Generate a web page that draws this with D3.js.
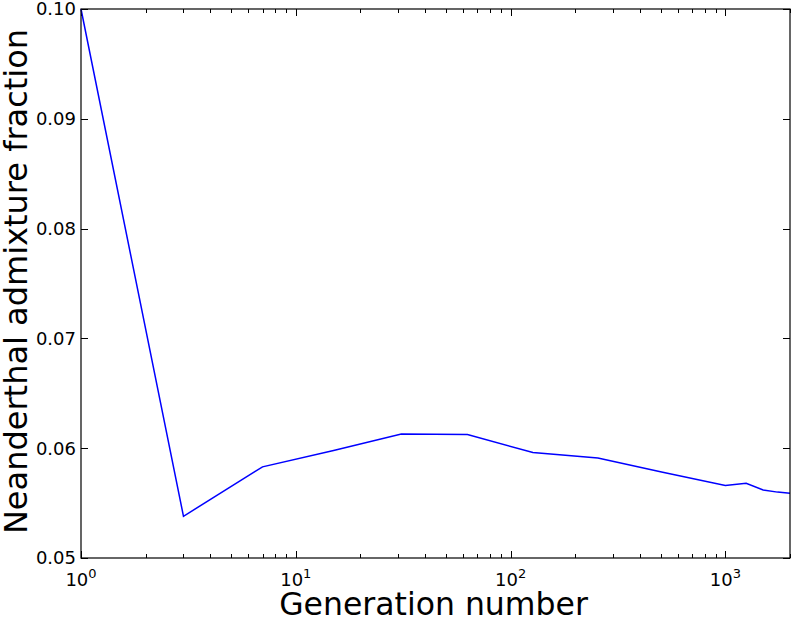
<!DOCTYPE html>
<html>
<head>
<meta charset="utf-8">
<script src="https://cdn.jsdelivr.net/npm/d3@7"></script>
<style>
  body { margin: 0; background: #fff; }
  svg { font-family: "DejaVu Sans", sans-serif; }
</style>
</head>
<body>
<svg id="chart" width="793" height="623"></svg>
<script>
// generation at which admixture was recorded
const generations = [1, 3, 7, 15, 31, 63, 127, 255, 511, 1000, 1250, 1500, 1750, 2000];
// admixture fraction
const admixture = [0.1000, 0.0538, 0.0583, 0.0598, 0.0613, 0.06125, 0.0596, 0.0591, 0.0578, 0.0566, 0.0568, 0.0562, 0.0560, 0.0559];
const yTicks = [0.05, 0.06, 0.07, 0.08, 0.09, 0.10];
const xMajor = [1, 10, 100, 1000];
const xLabel = "Generation number";
const yLabel = "Neanderthal admixture fraction";

const width = 793, height = 623;
const margin = { top: 9, right: 3, bottom: 65, left: 81 };
const svg = d3.select("#chart");

const x = d3.scaleLog().domain([1, 2000]).range([margin.left, width - margin.right]);
const y = d3.scaleLinear().domain([0.05, 0.10]).range([height - margin.bottom, margin.top]);

const x0 = margin.left, x1 = width - margin.right;
const y0 = height - margin.bottom, y1 = margin.top;

// minor ticks on log axis
const xMinor = [];
for (let d = 1; d <= 1000; d *= 10) {
  for (let k = 2; k <= 9; k++) {
    if (d * k <= 2000) xMinor.push(d * k);
  }
}

const ticks = svg.append("g").attr("stroke", "#000").attr("stroke-width", 1);
// x ticks, bottom and top, pointing inward
xMajor.forEach(v => {
  const px = Math.round(x(v)) + 0.5;
  ticks.append("line").attr("x1", px).attr("x2", px).attr("y1", y0).attr("y2", y0 - 7);
  ticks.append("line").attr("x1", px).attr("x2", px).attr("y1", y1).attr("y2", y1 + 7);
});
xMinor.forEach(v => {
  const px = Math.round(x(v)) + 0.5;
  ticks.append("line").attr("x1", px).attr("x2", px).attr("y1", y0).attr("y2", y0 - 4);
  ticks.append("line").attr("x1", px).attr("x2", px).attr("y1", y1).attr("y2", y1 + 4);
});
// y ticks, left and right
yTicks.forEach(v => {
  const py = Math.round(y(v)) + 0.5;
  ticks.append("line").attr("x1", x0).attr("x2", x0 + 7).attr("y1", py).attr("y2", py);
  ticks.append("line").attr("x1", x1).attr("x2", x1 - 7).attr("y1", py).attr("y2", py);
});

// data line
const line = d3.line()
  .x((d, i) => x(generations[i]))
  .y(d => y(d));

svg.append("path")
  .datum(admixture)
  .attr("fill", "none")
  .attr("stroke", "#0000ff")
  .attr("stroke-width", 1.5)
  .attr("stroke-linejoin", "miter")
  .attr("d", line);

// frame
svg.append("rect")
  .attr("x", x0).attr("y", y1)
  .attr("width", x1 - x0).attr("height", y0 - y1)
  .attr("fill", "none").attr("stroke", "#000").attr("stroke-width", 1.2);

// y tick labels
svg.append("g").selectAll("text")
  .data(yTicks)
  .join("text")
  .attr("x", x0 - 5)
  .attr("y", d => y(d))
  .attr("dy", "0.36em")
  .attr("text-anchor", "end")
  .attr("font-size", 18)
  .text(d => d.toFixed(2));

// x tick labels as 10^n
const xl = svg.append("g").selectAll("text")
  .data(xMajor)
  .join("text")
  .attr("x", d => x(d))
  .attr("y", y0 + 28)
  .attr("text-anchor", "middle")
  .attr("font-size", 18);
xl.append("tspan").text("10");
xl.append("tspan")
  .attr("font-size", 13)
  .attr("dy", -8)
  .text(d => Math.round(Math.log10(d)));

// axis titles
svg.append("text")
  .attr("x", (x0 + x1) / 2 - 2)
  .attr("y", 615)
  .attr("text-anchor", "middle")
  .attr("font-size", 31.5)
  .text(xLabel);

svg.append("text")
  .attr("transform", `translate(27,${(y0 + y1) / 2 - 2}) rotate(-90)`)
  .attr("text-anchor", "middle")
  .attr("font-size", 32)
  .text(yLabel);
</script>
</body>
</html>
